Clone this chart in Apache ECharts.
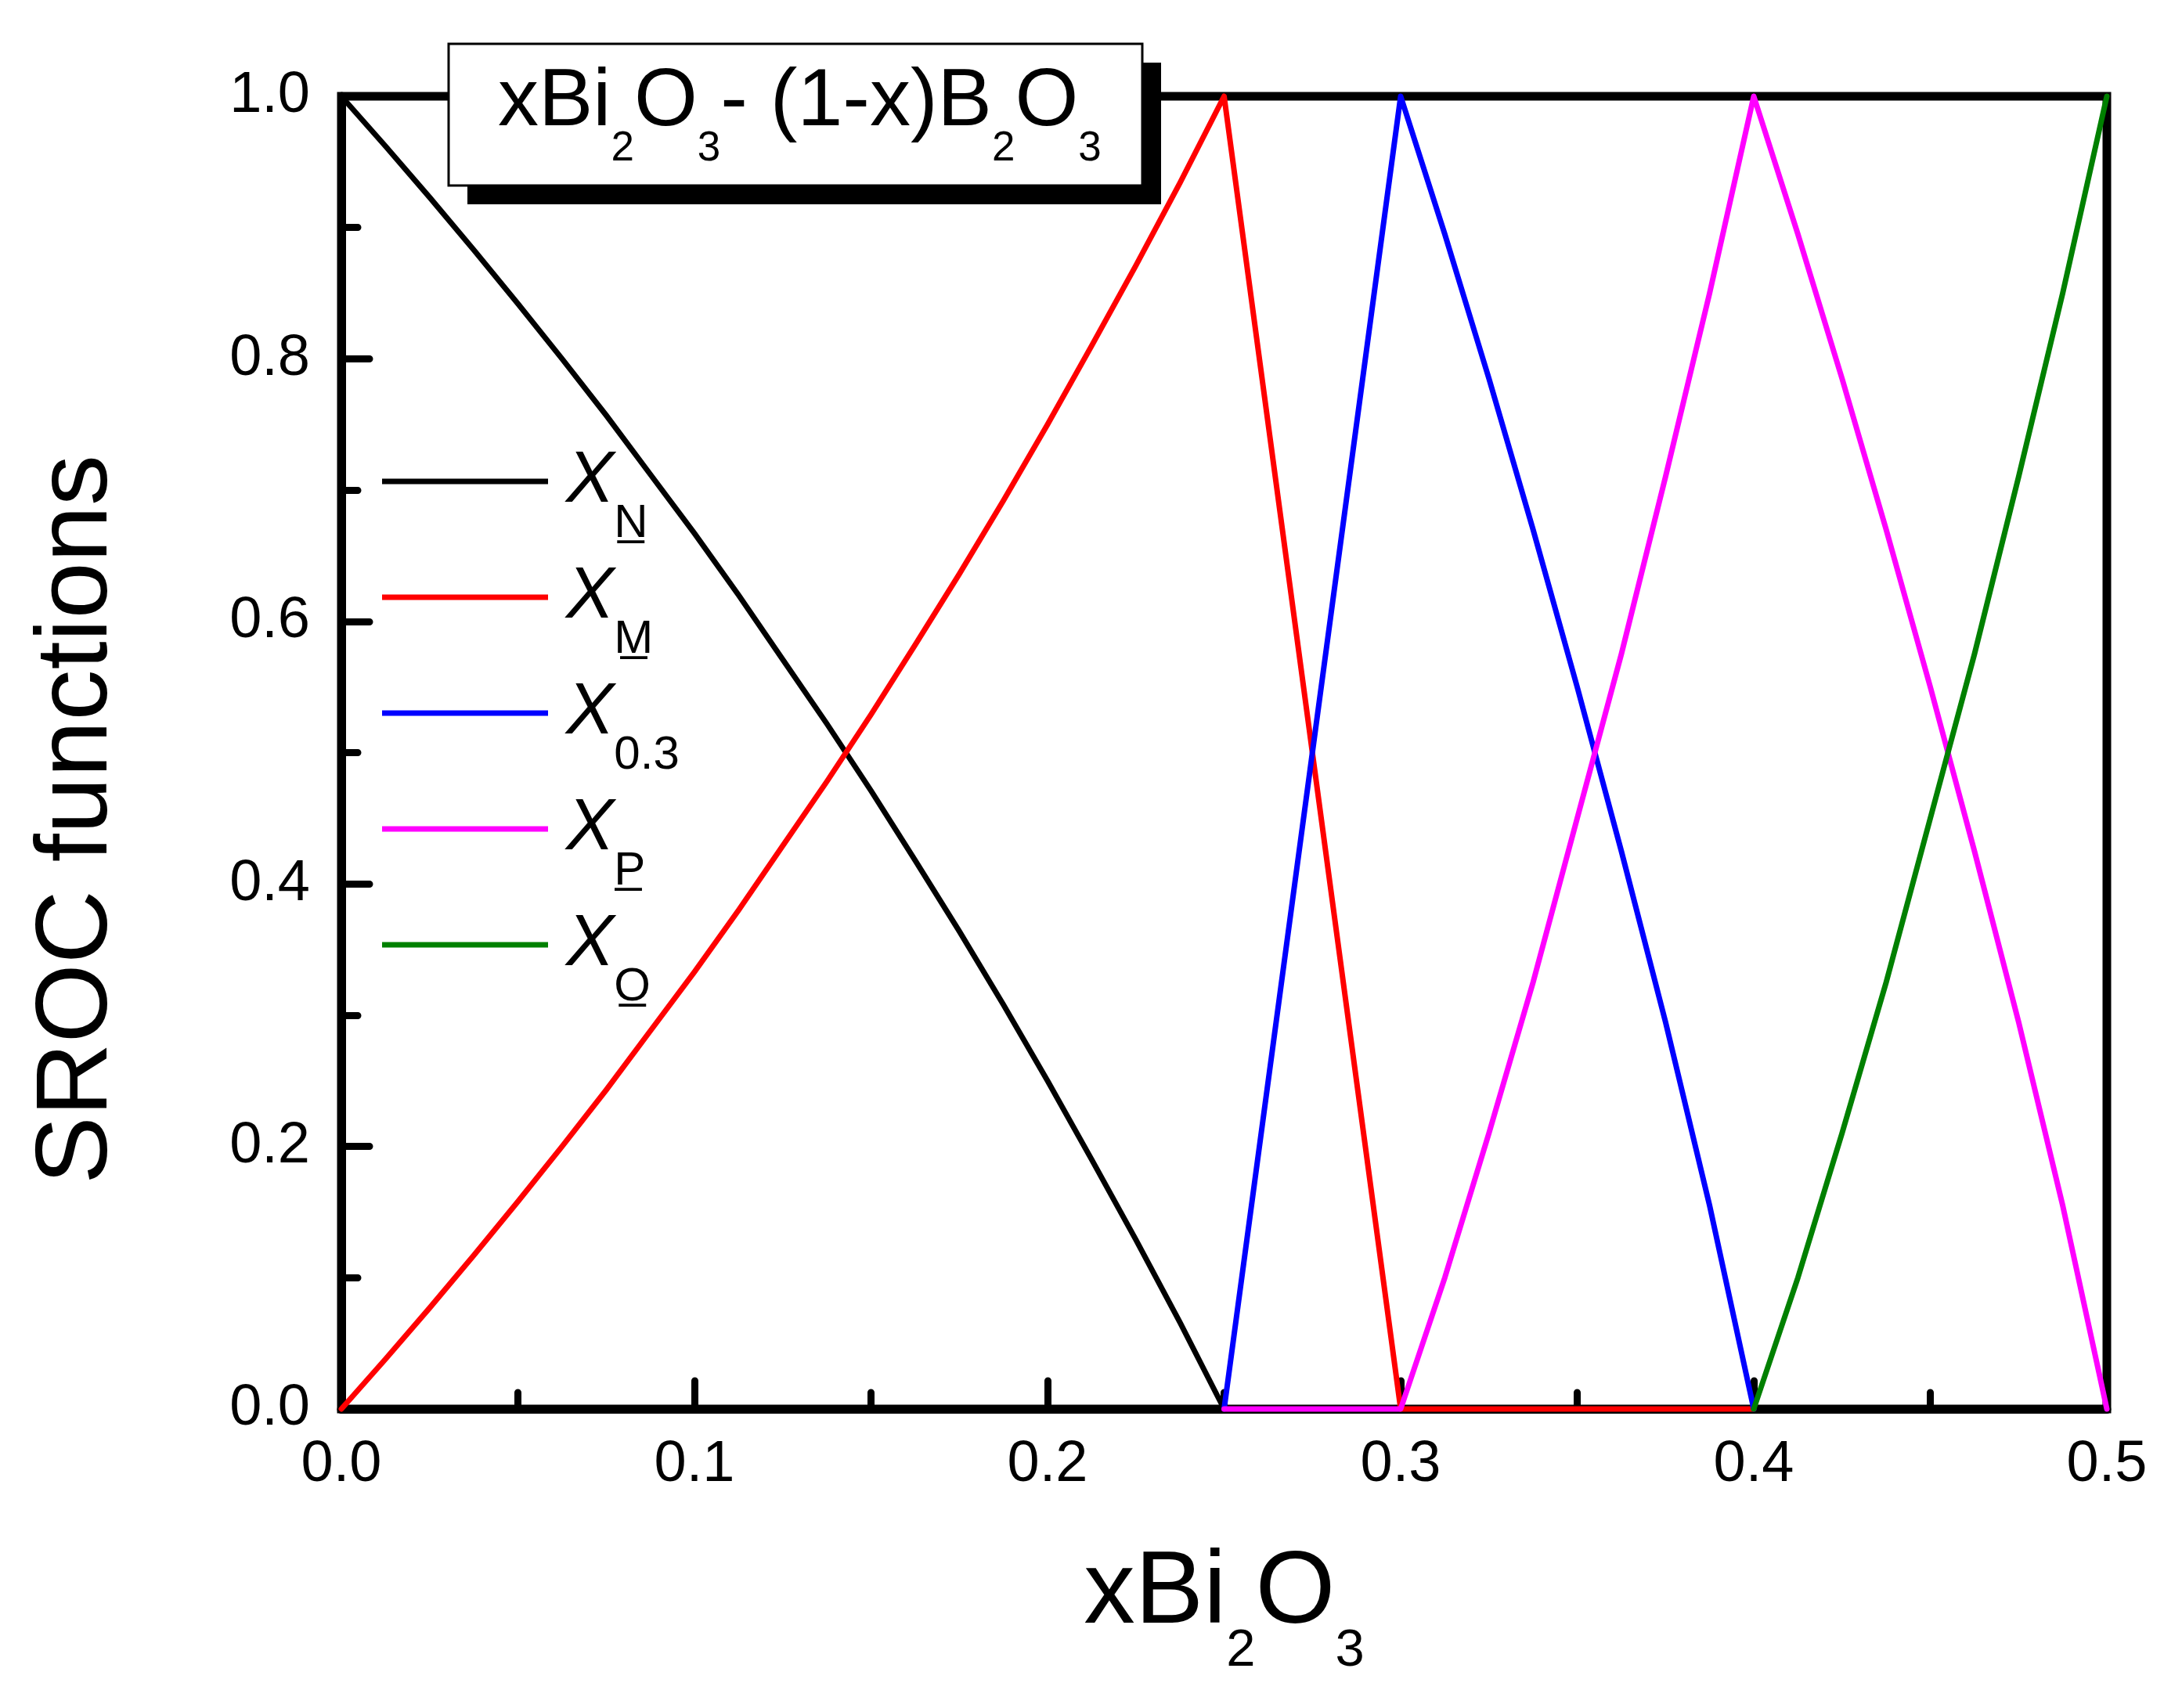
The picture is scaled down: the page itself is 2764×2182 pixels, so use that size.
<!DOCTYPE html>
<html>
<head>
<meta charset="utf-8">
<script src="https://cdn.jsdelivr.net/npm/echarts@6/dist/echarts.min.js"></script>
<style>
  html, body { margin: 0; padding: 0; background: #fff; }
  #main { width: 2764px; height: 2182px; }
</style>
</head>
<body>
<div id="main"></div>
<script>
// SROC functions of xBi2O3-(1-x)B2O3
const xTicks = [0.0, 0.1, 0.2, 0.3, 0.4, 0.5];
const yTicks = [0.0, 0.2, 0.4, 0.6, 0.8, 1.0];

// X_N (black)
const xN = [0, 0.0125, 0.025, 0.0375, 0.05, 0.0625, 0.075, 0.0875, 0.1, 0.1125, 0.125, 0.1375, 0.15,
            0.1625, 0.175, 0.1875, 0.2, 0.2125, 0.225, 0.2375, 0.25, 0.5];
const yN = [1.0, 0.962, 0.923, 0.883, 0.842, 0.800, 0.757, 0.712, 0.667, 0.620, 0.571, 0.522, 0.471,
            0.418, 0.364, 0.308, 0.250, 0.190, 0.129, 0.066, 0, 0];
// X_M (red)
const xM = [0, 0.0125, 0.025, 0.0375, 0.05, 0.0625, 0.075, 0.0875, 0.1, 0.1125, 0.125, 0.1375, 0.15,
            0.1625, 0.175, 0.1875, 0.2, 0.2125, 0.225, 0.2375, 0.25, 0.275, 0.3, 0.4];
const yM = [0, 0.038, 0.077, 0.117, 0.158, 0.200, 0.243, 0.288, 0.333, 0.380, 0.429, 0.478, 0.529,
            0.582, 0.636, 0.692, 0.750, 0.810, 0.871, 0.934, 1.0, 0.5, 0, 0];
// X_0.3 (blue)
const x03 = [0.25, 0.275, 0.3, 0.3125, 0.325, 0.3375, 0.35, 0.3625, 0.375, 0.3875, 0.4];
const y03 = [0, 0.5, 1.0, 0.895, 0.785, 0.67, 0.55, 0.425, 0.295, 0.155, 0];
// X_P (magenta)
const xP = [0.25, 0.3, 0.3125, 0.325, 0.3375, 0.35, 0.3625, 0.375, 0.3875, 0.4,
            0.4125, 0.425, 0.4375, 0.45, 0.4625, 0.475, 0.4875, 0.5];
const yP = [0, 0, 0.10, 0.21, 0.325, 0.45, 0.575, 0.71, 0.85, 1.0,
            0.895, 0.785, 0.67, 0.55, 0.425, 0.295, 0.155, 0];
// X_O (green)
const xO = [0.4, 0.4125, 0.425, 0.4375, 0.45, 0.4625, 0.475, 0.4875, 0.5];
const yO = [0, 0.10, 0.21, 0.325, 0.45, 0.575, 0.71, 0.85, 1.0];

const names = ['X_N', 'X_M', 'X_0.3', 'X_P', 'X_O'];
const subs = ['N\u0332', 'M\u0332', '0.3', 'P\u0332', 'O\u0332'];
const colors = ['#000000', '#ff0000', '#0000ff', '#ff00ff', '#008000'];
const xs = [xN, xM, x03, xP, xO];
const ys = [yN, yM, y03, yP, yO];

const FONT = "'Liberation Sans', Arial, sans-serif";

function pairs(a, b) {
  return a.map(function (v, i) { return [v, b[i]]; });
}

var chart = echarts.init(document.getElementById('main'), null, { renderer: 'canvas' });

var option = {
  backgroundColor: '#ffffff',
  animation: false,
  // framed title box with its hard drop shadow
  graphic: [
    { type: 'rect', z: 20, shape: { x: 597, y: 80, width: 886, height: 181 }, style: { fill: '#000' } },
    { type: 'rect', z: 21, shape: { x: 573, y: 56, width: 886, height: 181 }, style: { fill: '#fff', stroke: '#000', lineWidth: 3 } }
  ],
  title: {
    text: '{m|xBi}{s|2}{m|O}{s|3}{m|- (1-x)B}{s|2}{m|O}{s|3}',
    left: 573,
    top: 56,
    z: 30,
    padding: [20, 63, 51, 63],
    textStyle: {
      fontFamily: FONT,
      fontWeight: 'normal',
      color: '#000',
      rich: {
        m: { fontFamily: FONT, fontWeight: 'normal', fontSize: 104, lineHeight: 110, color: '#000' },
        s: { fontFamily: FONT, fontWeight: 'normal', fontSize: 53, lineHeight: 110, color: '#000', padding: [118, 0, 0, 0] }
      }
    }
  },
  legend: {
    orient: 'vertical',
    left: 488,
    top: 531,
    padding: 0,
    icon: 'rect',
    itemWidth: 212,
    itemHeight: 7,
    itemGap: -20,
    itemStyle: { borderWidth: 0 },
    selectedMode: false,
    data: names,
    formatter: function (name) {
      return '{x|X}{s|' + subs[names.indexOf(name)] + '}';
    },
    textStyle: {
      fontFamily: FONT,
      color: '#000',
      rich: {
        x: { fontFamily: FONT, fontSize: 92, fontStyle: 'italic', lineHeight: 100, color: '#000', padding: [0, 0, 0, 18] },
        s: { fontFamily: FONT, fontSize: 60, lineHeight: 100, color: '#000', padding: [108, 0, 0, 0] }
      }
    }
  },
  grid: {
    left: 436,
    right: 73,
    top: 123,
    bottom: 382,
    show: true,
    borderColor: '#000',
    borderWidth: 11,
    backgroundColor: 'transparent'
  },
  xAxis: {
    type: 'value',
    min: xTicks[0],
    max: xTicks[xTicks.length - 1],
    interval: 0.1,
    name: '{m|xBi}{s|2}{m|O}{s|3}',
    nameLocation: 'middle',
    nameGap: 167,
    nameTextStyle: {
      fontFamily: FONT,
      color: '#000',
      rich: {
        m: { fontFamily: FONT, fontSize: 131, lineHeight: 140, color: '#000' },
        s: { fontFamily: FONT, fontSize: 67, lineHeight: 140, color: '#000', padding: [146, 0, 0, 0] }
      }
    },
    axisLine: { show: true, lineStyle: { color: '#000', width: 11 } },
    axisTick: { show: true, inside: true, length: 36, lineStyle: { color: '#000', width: 9, cap: 'round' } },
    minorTick: { show: true, splitNumber: 2, length: 21, lineStyle: { color: '#000', width: 9, cap: 'round' } },
    splitLine: { show: false },
    axisLabel: {
      margin: 35,
      fontFamily: FONT,
      fontSize: 74,
      color: '#000',
      formatter: function (v) { return v.toFixed(1); }
    }
  },
  yAxis: {
    type: 'value',
    min: yTicks[0],
    max: yTicks[yTicks.length - 1],
    interval: 0.2,
    name: 'SROC functions',
    nameLocation: 'middle',
    nameGap: 271,
    nameTextStyle: {
      fontFamily: FONT,
      fontSize: 130,
      color: '#000',
      padding: [0, 171, 0, 0]
    },
    axisLine: { show: true, lineStyle: { color: '#000', width: 11 } },
    axisTick: { show: true, inside: true, length: 36, lineStyle: { color: '#000', width: 9, cap: 'round' } },
    minorTick: { show: true, splitNumber: 2, length: 21, lineStyle: { color: '#000', width: 9, cap: 'round' } },
    splitLine: { show: false },
    axisLabel: {
      margin: 40,
      fontFamily: FONT,
      fontSize: 74,
      color: '#000',
      formatter: function (v) { return v.toFixed(1); }
    }
  },
  series: names.map(function (n, i) {
    return {
      name: n,
      type: 'line',
      symbol: 'none',
      clip: false,
      color: colors[i],
      lineStyle: { color: colors[i], width: 7, cap: 'round', join: 'round' },
      data: pairs(xs[i], ys[i])
    };
  })
};

chart.setOption(option);
</script>
</body>
</html>
